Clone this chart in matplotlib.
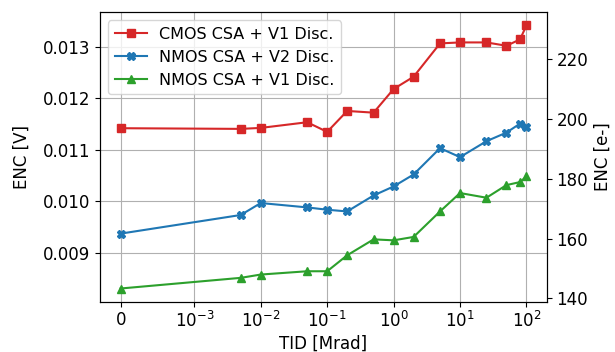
import matplotlib
matplotlib.use("Agg")
import matplotlib.pyplot as plt

# TID steps [Mrad]
tid = [0, 5e-3, 1e-2, 5e-2, 0.1, 0.2, 0.5, 1, 2, 5, 10, 25, 50, 80, 100]

# ENC [V]
enc_cmos_v1 = [0.01142, 0.011407, 0.011426, 0.011536, 0.011349, 0.011755, 0.011722,
               0.012181, 0.012419, 0.013066, 0.013085, 0.013085, 0.01302, 0.013143, 0.013414]
enc_nmos_v2 = [0.009374, 0.009736, 0.009968, 0.009883, 0.009838, 0.009805, 0.010115,
               0.01029, 0.010522, 0.011033, 0.010859, 0.011168, 0.011335, 0.011509, 0.011445]
enc_nmos_v1 = [0.008309, 0.008516, 0.00858, 0.008644, 0.008644, 0.008954, 0.009263,
               0.009244, 0.00931, 0.009805, 0.010162, 0.010071, 0.010316, 0.010375, 0.010483]

# volts -> electrons
V_TO_E = 17250


def main():
    plt.rcParams["font.size"] = 12
    fig, ax = plt.subplots(figsize=(6.15, 3.52), dpi=100)
    fig.subplots_adjust(left=0.163, right=0.889, bottom=0.143, top=0.965)

    ax.plot(tid, enc_cmos_v1, "s-", color="tab:red", label="CMOS CSA + V1 Disc.")
    ax.plot(tid, enc_nmos_v2, "X-", color="tab:blue", label="NMOS CSA + V2 Disc.")
    ax.plot(tid, enc_nmos_v1, "^-", color="tab:green", label="NMOS CSA + V1 Disc.")

    ax.set_xscale("symlog", linthresh=1e-3)
    ax.set_xticks([0, 1e-3, 1e-2, 1e-1, 1, 10, 100])
    ax.grid()
    ax.set_xlabel("TID [Mrad]", labelpad=2)
    ax.set_ylabel("ENC [V]", labelpad=9)
    ax.legend(loc="upper left", fontsize=11.5)

    ax2 = ax.twinx()
    lo, hi = ax.get_ylim()
    ax2.set_ylim(lo * V_TO_E, hi * V_TO_E)
    ax2.set_ylabel("ENC [e-]")

    fig.savefig("out.png")


if __name__ == "__main__":
    main()
